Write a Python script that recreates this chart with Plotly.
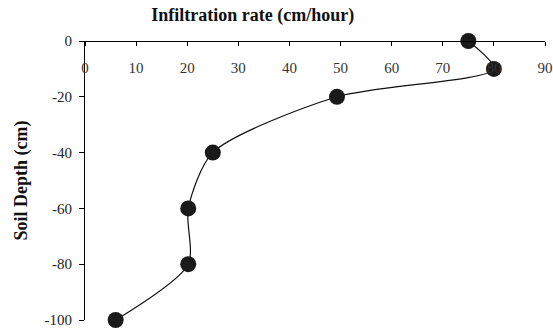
import plotly.graph_objects as go

infiltration_rate = [75, 80, 49.3, 25, 20.2, 20.2, 6]
soil_depth = [0, -10, -20, -40, -60, -80, -100]
x_ticks = [0, 10, 20, 30, 40, 50, 60, 70, 80, 90]
y_ticks = [0, -20, -40, -60, -80, -100]
y_tick_labels = ["0", "-20", "-40", "-60", "-80", "-100"]

font_family = "Liberation Serif, DejaVu Serif, serif"

fig = go.Figure()
fig.add_trace(go.Scatter(
    x=infiltration_rate, y=soil_depth,
    mode="lines+markers",
    line=dict(color="#111111", width=1.2, shape="spline", smoothing=0.75),
    marker=dict(size=16, color="#1a1a1a"),
    cliponaxis=False,
    showlegend=False,
))

fig.update_layout(
    width=553, height=333,
    margin=dict(l=85, r=8, t=41, b=13),
    paper_bgcolor="white", plot_bgcolor="white",
    font=dict(family=font_family, size=15, color="#222222"),
    title=dict(text="<b>Infiltration rate (cm/hour)</b>", x=0.457, xanchor="center",
               y=1 - 15 / 333, yanchor="middle", xref="container", yref="container",
               font=dict(size=18, color="#111111", family=font_family)),
    xaxis=dict(range=[0, 90], tickvals=x_ticks, side="bottom", anchor="free", position=1,
               showline=True, linecolor="black", linewidth=1.2,
               ticks="outside", ticklen=4, tickcolor="black", ticklabelstandoff=9,
               automargin=False,
               showgrid=False, zeroline=False, tickfont=dict(size=15, color="#333333")),
    yaxis=dict(range=[-100, 0], tickvals=y_ticks, ticktext=y_tick_labels,
               showline=True, linecolor="black", linewidth=1.2,
               ticks="outside", ticklen=5, tickcolor="black", ticklabelstandoff=4,
               automargin=False,
               showgrid=False, zeroline=False, tickfont=dict(size=15, color="#222222"),
               title=dict(text="<b>Soil Depth (cm)</b>", standoff=12,
                          font=dict(size=18, color="#111111"))),
)

fig.write_html("out.html", config={"displayModeBar": False},
               post_script="document.body.style.margin='0';document.body.style.overflow='hidden';")
